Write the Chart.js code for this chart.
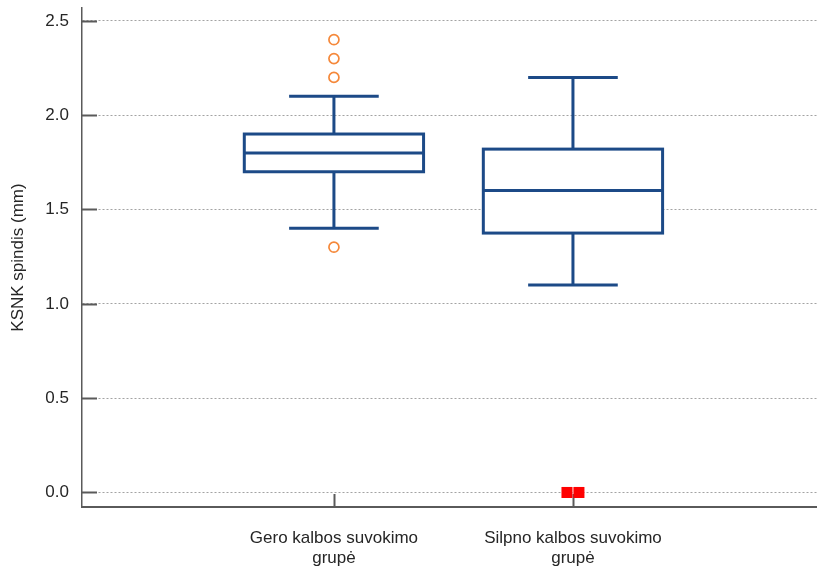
<!DOCTYPE html>
<html lang="lt">
<head>
<meta charset="utf-8">
<title>KSNK spindis</title>
<script src="https://cdn.jsdelivr.net/npm/chart.js@4/dist/chart.umd.min.js"></script>
<style>
  html, body { margin: 0; padding: 0; background: #ffffff; }
  #wrap { width: 817px; height: 569px; }
</style>
</head>
<body>
<div id="wrap"><canvas id="chart" width="817" height="569"></canvas></div>
<script>
// Groups shown along the x axis (each label split into lines)
const CATEGORIES = [
  ['Gero kalbos suvokimo', 'grupė'],
  ['Silpno kalbos suvokimo', 'grupė']
];

// Five-number summaries per group
const WHISKER_LOW  = [1.4, 1.1];
const Q1           = [1.7, 1.375];
const MEDIAN       = [1.8, 1.6];
const Q3           = [1.9, 1.82];
const WHISKER_HIGH = [2.1, 2.2];

// Outliers (open circles) and extreme values (filled squares) per group
const OUTLIERS = [[2.4, 2.3, 2.2, 1.3], []];
const EXTREMES = [[], [0, 0]];

// Value-axis ticks
const Y_TICKS = [0, 0.5, 1.0, 1.5, 2.0, 2.5];

// Styling
const FONT_FAMILY = "'Liberation Sans', Arial, Helvetica, sans-serif";
const TEXT_COLOR = '#262626';
const AXIS_COLOR = '#5a5a5a';
const BOX_COLOR = '#1c4a87';
const OUTLIER_COLOR = '#f5883a';
const EXTREME_COLOR = '#ff0000';
const BOX_WIDTH = 0.75;       // in category units
const EXTREME_SPREAD = 0.05;  // horizontal spacing between coincident extremes

const outlierPoints = [];
OUTLIERS.forEach((vals, g) => vals.forEach(v => outlierPoints.push({ x: g + 1, y: v })));

const extremePoints = [];
EXTREMES.forEach((vals, g) => vals.forEach((v, k) => {
  extremePoints.push({ x: g + 1 + (k - (vals.length - 1) / 2) * EXTREME_SPREAD, y: v });
}));

// Draws boxes, whiskers and the inner tick marks with the chart's scales
const boxPlotPlugin = {
  id: 'boxPlot',
  beforeDatasetsDraw(chart) {
    const { ctx, chartArea } = chart;
    const xs = chart.scales.x;
    const ys = chart.scales.y;

    ctx.save();
    // inner tick marks on the value axis
    ctx.strokeStyle = AXIS_COLOR;
    ctx.lineWidth = 2;
    Y_TICKS.forEach(t => {
      const y = Math.round(ys.getPixelForValue(t)) + 0.5;
      ctx.beginPath();
      ctx.moveTo(chartArea.left, y);
      ctx.lineTo(chartArea.left + 15, y);
      ctx.stroke();
    });
    // inner tick marks on the category axis
    CATEGORIES.forEach((c, i) => {
      const x = Math.round(xs.getPixelForValue(i + 1)) + 0.5;
      ctx.beginPath();
      ctx.moveTo(x, chartArea.bottom);
      ctx.lineTo(x, chartArea.bottom - 13);
      ctx.stroke();
    });

    // boxes and whiskers
    ctx.strokeStyle = BOX_COLOR;
    ctx.lineWidth = 3;
    ctx.lineCap = 'butt';
    CATEGORIES.forEach((c, i) => {
      const cx = xs.getPixelForValue(i + 1);
      const half = xs.getPixelForValue(i + 1 + BOX_WIDTH / 2) - cx;
      const capHalf = half / 2;
      const yLo = ys.getPixelForValue(WHISKER_LOW[i]);
      const yQ1 = ys.getPixelForValue(Q1[i]);
      const yMed = ys.getPixelForValue(MEDIAN[i]);
      const yQ3 = ys.getPixelForValue(Q3[i]);
      const yHi = ys.getPixelForValue(WHISKER_HIGH[i]);

      ctx.beginPath();
      ctx.moveTo(cx, yQ3); ctx.lineTo(cx, yHi);
      ctx.moveTo(cx - capHalf, yHi); ctx.lineTo(cx + capHalf, yHi);
      ctx.moveTo(cx, yQ1); ctx.lineTo(cx, yLo);
      ctx.moveTo(cx - capHalf, yLo); ctx.lineTo(cx + capHalf, yLo);
      ctx.stroke();

      ctx.fillStyle = '#ffffff';
      ctx.fillRect(cx - half, yQ3, 2 * half, yQ1 - yQ3);
      ctx.strokeRect(cx - half, yQ3, 2 * half, yQ1 - yQ3);

      ctx.beginPath();
      ctx.moveTo(cx - half, yMed); ctx.lineTo(cx + half, yMed);
      ctx.stroke();
    });
    ctx.restore();
  }
};

new Chart(document.getElementById('chart'), {
  type: 'scatter',
  data: {
    datasets: [
      {
        label: 'Išskirtys',
        data: outlierPoints,
        pointStyle: 'circle',
        pointRadius: 5,
        pointBorderWidth: 1.7,
        borderColor: OUTLIER_COLOR,
        backgroundColor: '#ffffff'
      },
      {
        label: 'Kraštinės reikšmės',
        data: extremePoints,
        pointStyle: 'rect',
        pointRadius: 7.8,
        pointBorderWidth: 0,
        borderColor: EXTREME_COLOR,
        backgroundColor: EXTREME_COLOR
      }
    ]
  },
  options: {
    responsive: false,
    animation: false,
    events: [],
    layout: { autoPadding: false, padding: { top: 8, right: 0, bottom: 0, left: 0 } },
    plugins: {
      legend: { display: false },
      tooltip: { enabled: false }
    },
    scales: {
      x: {
        type: 'linear',
        min: -0.054,
        max: 3.021,
        afterFit: s => {
          s.height = 62;
          s.paddingLeft = 0;
          s.paddingRight = 0;
        },
        afterBuildTicks: s => { s.ticks = CATEGORIES.map((c, i) => ({ value: i + 1 })); },
        grid: { display: true, color: 'rgba(0,0,0,0)', drawTicks: false },
        border: { display: true, color: AXIS_COLOR, width: 2 },
        ticks: {
          padding: 22,
          color: TEXT_COLOR,
          font: { family: FONT_FAMILY, size: 17, lineHeight: 1.15 },
          maxRotation: 0,
          autoSkip: false,
          callback: v => CATEGORIES[Math.round(v) - 1] || ''
        }
      },
      y: {
        type: 'linear',
        min: -0.077,
        max: 2.568,
        afterFit: s => {
          s.width = 82;
          s.paddingTop = 0;
          s.paddingBottom = 0;
        },
        afterBuildTicks: s => { s.ticks = Y_TICKS.map(v => ({ value: v })); },
        grid: { display: true, color: '#a3a3a3', lineWidth: 1, drawTicks: false },
        border: { display: true, color: AXIS_COLOR, width: 1.5, dash: [2, 2] },
        ticks: {
          padding: 13,
          color: TEXT_COLOR,
          font: { family: FONT_FAMILY, size: 17 },
          callback: v => v.toFixed(1)
        },
        title: {
          display: true,
          text: 'KSNK spindis (mm)',
          color: TEXT_COLOR,
          font: { family: FONT_FAMILY, size: 17 },
          padding: { top: 8, bottom: 0 }
        }
      }
    }
  },
  plugins: [boxPlotPlugin]
});
</script>
</body>
</html>
